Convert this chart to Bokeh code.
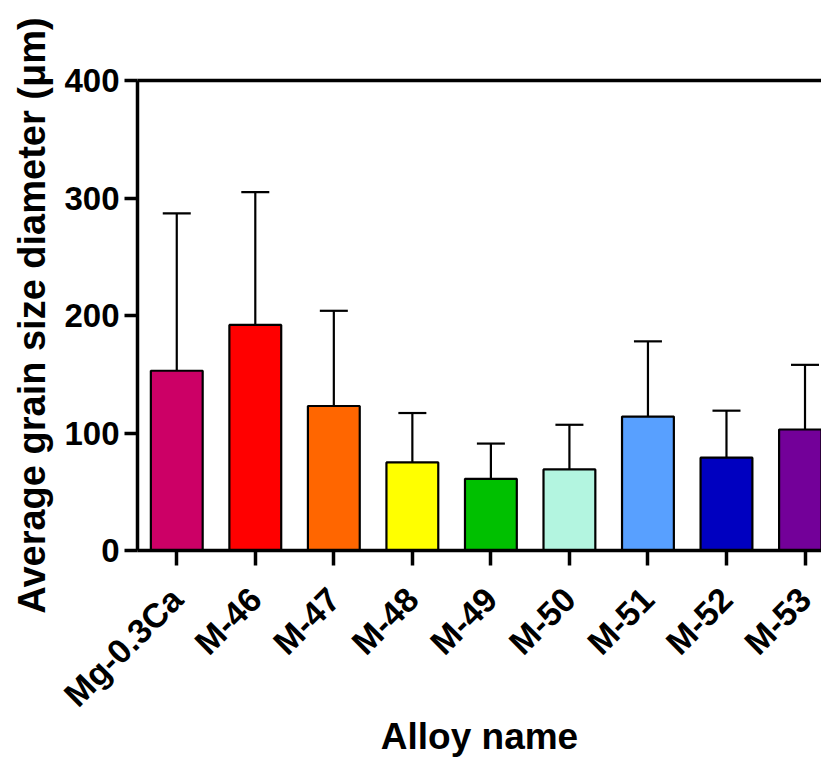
import math
from bokeh.plotting import figure
from bokeh.models import (ColumnDataSource, Whisker, TeeHead, LinearAxis, FixedTicker,
                          Range1d)
from bokeh.embed import file_html
from bokeh.resources import INLINE

# ---- data ----
alloys = ["Mg-0.3Ca", "M-46", "M-47", "M-48", "M-49", "M-50", "M-51", "M-52", "M-53"]
mean_size = [153, 192, 123, 75, 61, 69, 114, 79, 103]
upper_err = [287, 305, 204, 117, 91, 107, 178, 119, 158]
bar_colors = ["#CC0066", "#FF0000", "#FF6600", "#FFFF00", "#00C000",
              "#B3F5E0", "#58A0FF", "#0000C0", "#730099"]
y_ticks = [0, 100, 200, 300, 400]

xpos = list(range(1, len(alloys) + 1))
src = ColumnDataSource(dict(x=xpos, val=mean_size, up=upper_err, color=bar_colors))

FONT = "Liberation Sans"

p = figure(frame_width=684, frame_height=470,
           x_range=Range1d(0.5, 9.21), y_range=Range1d(0, 400),
           output_backend="svg", toolbar_location=None,
           min_border_left=137, min_border_top=80, min_border_right=0,
           min_border_bottom=10)
p.outline_line_color = None
p.xgrid.visible = False
p.ygrid.visible = False
p.background_fill_color = "white"
p.border_fill_color = "white"

p.vbar(x="x", top="val", width=0.66, bottom=0, source=src,
       fill_color="color", line_color="black", line_width=2.2)

wh = Whisker(source=src, base="x", upper="up", lower="val",
             line_color="black", line_width=2.2,
             upper_head=TeeHead(size=28, line_color="black", line_width=2.2),
             lower_head=None)
p.add_layout(wh)

# y axis
ya = p.yaxis[0]
ya.ticker = FixedTicker(ticks=y_ticks)
ya.axis_line_width = 3.5
ya.major_tick_line_width = 3.5
ya.major_tick_in = 0
ya.major_tick_out = 13
ya.minor_tick_line_color = None
ya.major_label_standoff = 5
ya.major_label_text_font = FONT
ya.major_label_text_font_style = "bold"
ya.major_label_text_font_size = "33px"
ya.major_label_text_color = "black"
ya.axis_label = "Average grain size diameter (μm)"
ya.axis_label_text_font = FONT
ya.axis_label_text_font_style = "bold"
ya.axis_label_text_font_size = "38px"
ya.axis_label_standoff = 8
ya.axis_label_text_color = "black"

# x axis
xa = p.xaxis[0]
xa.ticker = FixedTicker(ticks=xpos)
xa.major_label_overrides = {i: n for i, n in zip(xpos, alloys)}
xa.axis_line_width = 3.5
xa.major_tick_line_width = 3.5
xa.major_tick_in = 0
xa.major_tick_out = 15
xa.minor_tick_line_color = None
xa.major_label_orientation = math.pi / 4
xa.major_label_standoff = 28
xa.major_label_text_font = FONT
xa.major_label_text_font_style = "bold"
xa.major_label_text_font_size = "34px"
xa.major_label_text_color = "black"
xa.axis_label = "Alloy name"
xa.axis_label_text_font = FONT
xa.axis_label_text_font_style = "bold"
xa.axis_label_text_font_size = "37px"
xa.axis_label_standoff = -14
xa.axis_label_text_color = "black"

# top line
top = LinearAxis(ticker=FixedTicker(ticks=[]), axis_line_width=3.5,
                 major_tick_in=0, major_tick_out=0,
                 minor_tick_line_color=None,
                 major_label_text_font_size="0px")
p.add_layout(top, "above")

open("out.html", "w").write(file_html(p, INLINE))
